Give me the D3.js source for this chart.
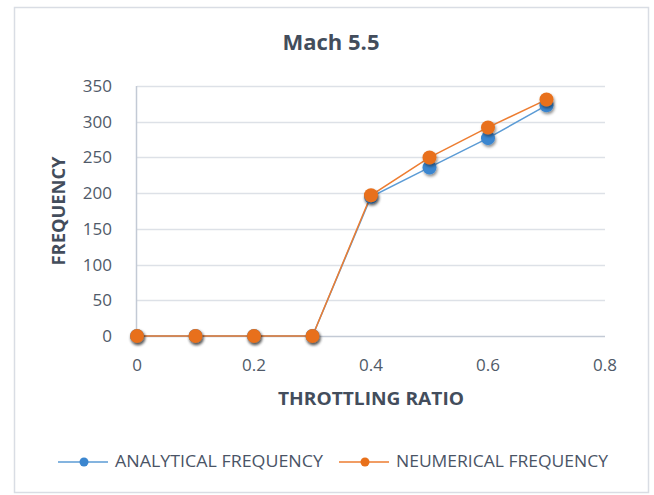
<!DOCTYPE html>
<html>
<head>
<meta charset="utf-8">
<script src="https://cdn.jsdelivr.net/npm/d3@7"></script>
<style>
  body { margin: 0; background: #fff; }
  text { font-family: "Open Sans", sans-serif; }
</style>
</head>
<body>
<div id="chart-area"></div>
<script>
// data
var ratios = [0, 0.1, 0.2, 0.3, 0.4, 0.5, 0.6, 0.7];
var analytical = [0, 0, 0, 0, 195, 236, 277, 323];
var numerical = [0, 0, 0, 0, 197, 250, 292, 331];
var xTicks = [0, 0.2, 0.4, 0.6, 0.8];
var yTicks = [0, 50, 100, 150, 200, 250, 300, 350];
var seriesNames = ["ANALYTICAL  FREQUENCY", "NEUMERICAL FREQUENCY"];

var width = 654, height = 495;

var svg = d3.select("#chart-area")
    .append("svg")
    .attr("width", width)
    .attr("height", height);

// shadow for the markers
var defs = svg.append("defs");
defs.append("filter")
    .attr("id", "shadow")
    .attr("x", "-50%").attr("y", "-50%")
    .attr("width", "200%").attr("height", "200%")
  .append("feDropShadow")
    .attr("dx", 1).attr("dy", 2)
    .attr("stdDeviation", 1.5)
    .attr("flood-color", "#000")
    .attr("flood-opacity", 0.45);

// chart border
svg.append("rect")
    .attr("x", 14.5).attr("y", 7.5)
    .attr("width", 634).attr("height", 485)
    .attr("fill", "#fff")
    .attr("stroke", "#d9dde4")
    .attr("stroke-width", 1.5);

var x = d3.scaleLinear().domain([0, 0.8]).range([137, 605]);
var y = d3.scaleLinear().domain([0, 350]).range([336, 86]);

// gridlines
svg.append("g")
    .selectAll("line")
    .data(yTicks)
    .enter().append("line")
    .attr("x1", x(0)).attr("x2", x(0.8))
    .attr("y1", function(d) { return Math.round(y(d)) + 0.5; })
    .attr("y2", function(d) { return Math.round(y(d)) + 0.5; })
    .attr("stroke", function(d) { return d === 0 ? "#c3cad5" : "#dde1e7"; })
    .attr("stroke-width", 1.5);

// y axis line
svg.append("line")
    .attr("x1", x(0) - 0.5).attr("x2", x(0) - 0.5)
    .attr("y1", y(350)).attr("y2", y(0))
    .attr("stroke", "#c3cad5")
    .attr("stroke-width", 1.5);

// y tick labels
svg.append("g")
    .selectAll("text")
    .data(yTicks)
    .enter().append("text")
    .attr("x", 112)
    .attr("y", function(d) { return y(d); })
    .attr("dy", "0.35em")
    .attr("text-anchor", "end")
    .attr("font-size", "17px")
    .attr("fill", "#505a68")
    .text(function(d) { return d; });

// x tick labels
svg.append("g")
    .selectAll("text")
    .data(xTicks)
    .enter().append("text")
    .attr("x", function(d) { return x(d); })
    .attr("y", 365)
    .attr("dy", "0.35em")
    .attr("text-anchor", "middle")
    .attr("font-size", "17px")
    .attr("fill", "#505a68")
    .text(function(d) { return d; });

// title
svg.append("text")
    .attr("x", 331)
    .attr("y", 42)
    .attr("dy", "0.35em")
    .attr("text-anchor", "middle")
    .attr("font-size", "22px")
    .attr("font-weight", "700")
    .attr("fill", "#434d5c")
    .text("Mach 5.5");

// axis titles
svg.append("text")
    .attr("x", 371)
    .attr("y", 399)
    .attr("dy", "0.35em")
    .attr("text-anchor", "middle")
    .attr("font-size", "17px")
    .attr("font-weight", "700")
    .attr("textLength", 186)
    .attr("lengthAdjust", "spacingAndGlyphs")
    .attr("fill", "#434d5c")
    .text("THROTTLING RATIO");

svg.append("text")
    .attr("transform", "translate(59,211) rotate(-90)")
    .attr("dy", "0.35em")
    .attr("text-anchor", "middle")
    .attr("font-size", "17px")
    .attr("font-weight", "700")
    .attr("textLength", 109)
    .attr("lengthAdjust", "spacingAndGlyphs")
    .attr("fill", "#434d5c")
    .text("FREQUENCY");

// series
var series = [
  {name: seriesNames[0], values: analytical, line: "#5b9bd5", dot: "#3b86cf", len: 208},
  {name: seriesNames[1], values: numerical, line: "#ed7d31", dot: "#e8701a", len: 212}
];

var line = d3.line()
    .x(function(d, i) { return x(ratios[i]); })
    .y(function(d) { return y(d); });

series.forEach(function(s) {
  svg.append("path")
      .datum(s.values)
      .attr("d", line)
      .attr("fill", "none")
      .attr("stroke", s.line)
      .attr("stroke-width", 1.5);
});

series.forEach(function(s) {
  svg.append("g")
      .selectAll("circle")
      .data(s.values)
      .enter().append("circle")
      .attr("cx", function(d, i) { return x(ratios[i]); })
      .attr("cy", function(d) { return y(d); })
      .attr("r", 7)
      .attr("fill", s.dot)
      .attr("filter", "url(#shadow)");
});

// legend
var legendX = [58, 339];
var legend = svg.append("g");
series.forEach(function(s, i) {
  var lx = legendX[i];
  legend.append("line")
      .attr("x1", lx).attr("x2", lx + 50)
      .attr("y1", 462).attr("y2", 462)
      .attr("stroke", s.line)
      .attr("stroke-width", 1.5);
  legend.append("circle")
      .attr("cx", lx + 26).attr("cy", 462)
      .attr("r", 4.5)
      .attr("fill", s.dot);
  legend.append("text")
      .attr("x", lx + 57)
      .attr("y", 462)
      .attr("dy", "0.35em")
      .attr("font-size", "15.5px")
      .attr("textLength", s.len)
      .attr("lengthAdjust", "spacingAndGlyphs")
      .attr("fill", "#4a5466")
      .text(s.name);
});
</script>
</body>
</html>
